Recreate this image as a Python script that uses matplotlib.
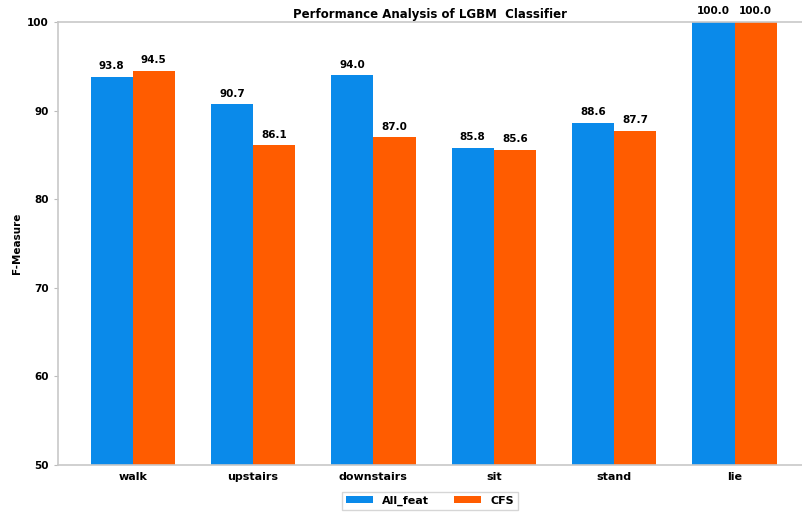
import numpy as np
import matplotlib
matplotlib.use("Agg")
import matplotlib.pyplot as plt

activities = ["walk", "upstairs", "downstairs", "sit", "stand", "lie"]
all_feat = [93.8, 90.7, 94.0, 85.8, 88.6, 100.0]
cfs = [94.5, 86.1, 87.0, 85.6, 87.7, 100.0]
series_names = ["All_feat", "CFS"]
series_colors = ["#0a8aea", "#ff5c00"]

plt.rcParams["font.family"] = ["DejaVu Sans"]
plt.rcParams["font.weight"] = "bold"

fig = plt.figure(figsize=(8.02, 5.13), dpi=100)
ax = fig.add_axes([58 / 802, 1 - 465 / 513, 1 - 58 / 802, (465 - 22) / 513])

x = np.arange(len(activities))
width = 0.35
bars1 = ax.bar(x - width / 2, all_feat, width, color=series_colors[0], label=series_names[0])
bars2 = ax.bar(x + width / 2, cfs, width, color=series_colors[1], label=series_names[1])

for bars in (bars1, bars2):
    for b in bars:
        h = b.get_height()
        ax.annotate(f"{h:.1f}", (b.get_x() + b.get_width() / 2, h),
                    xytext=(0, 4), textcoords="offset points",
                    ha="center", va="bottom", fontsize=7.5, fontweight="bold")

ax.set_ylim(50, 100)
ax.set_xlim(-0.62, 5.56)
ax.set_yticks([50, 60, 70, 80, 90, 100])
ax.set_xticks(x)
ax.set_xticklabels(activities, fontsize=8, fontweight="bold")
ax.tick_params(axis="y", labelsize=7.5, color="#bbbbbb", length=3)
ax.tick_params(axis="x", length=0, pad=5)
for lbl in ax.get_yticklabels():
    lbl.set_fontweight("bold")

for side in ("left", "top", "bottom"):
    ax.spines[side].set_color("#c8c8c8")
    ax.spines[side].set_linewidth(1.2)
ax.spines["right"].set_visible(False)

ax.set_ylabel("F-Measure", fontsize=7.5, fontweight="bold", labelpad=4)
ax.set_title("Performance Analysis of LGBM  Classifier", fontsize=8.5,
             fontweight="bold", pad=3)

leg = ax.legend(loc="upper center", bbox_to_anchor=(0.5, -0.048), ncol=2,
                fontsize=8, frameon=True, handlelength=2.4, handleheight=0.6,
                columnspacing=2.3, borderpad=0.35, fancybox=False)
leg.get_frame().set_edgecolor("#cccccc")
for t in leg.get_texts():
    t.set_fontweight("bold")

fig.savefig("out.png", dpi=100)
